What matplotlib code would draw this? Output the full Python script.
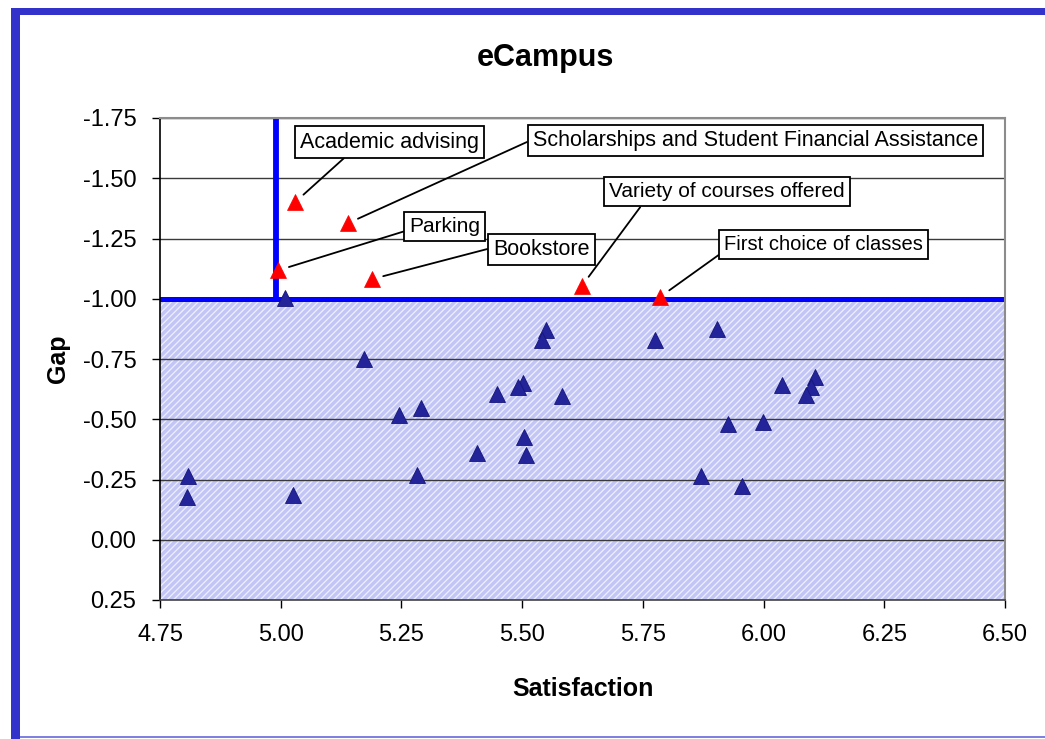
import matplotlib
matplotlib.use("Agg")
import matplotlib.pyplot as plt
from matplotlib.patches import Rectangle

plt.rcParams['font.family'] = ['Liberation Sans', 'DejaVu Sans']
plt.rcParams['axes.unicode_minus'] = False
plt.rcParams['hatch.linewidth'] = 0.9

# ---- data ----
title = "eCampus"
x_label = "Satisfaction"
y_label = "Gap"

red_labels = ["Academic advising",
              "Scholarships and Student Financial Assistance",
              "Parking",
              "Bookstore",
              "Variety of courses offered",
              "First choice of classes"]
red_x = [5.030, 5.139, 4.995, 5.190, 5.624, 5.786]
red_y = [-1.401, -1.313, -1.118, -1.082, -1.054, -1.008]

blue_x = [5.009, 5.549, 5.541, 5.172, 5.448, 5.502, 5.491, 5.582, 5.245,
          5.290, 5.504, 5.406, 5.508, 4.808, 5.282, 4.806, 5.025, 5.775,
          5.903, 6.038, 6.106, 6.098, 6.088, 5.926, 5.999, 5.870, 5.955]
blue_y = [-1.003, -0.870, -0.829, -0.750, -0.605, -0.650, -0.634, -0.597, -0.518,
          -0.547, -0.426, -0.360, -0.352, -0.265, -0.269, -0.177, -0.186, -0.829,
          -0.875, -0.642, -0.675, -0.634, -0.601, -0.480, -0.489, -0.265, -0.223]

x_ticks = [4.75, 5.00, 5.25, 5.50, 5.75, 6.00, 6.25, 6.50]
x_tick_labels = ["4.75", "5.00", "5.25", "5.50", "5.75", "6.00", "6.25", "6.50"]
y_ticks = [-1.75, -1.50, -1.25, -1.00, -0.75, -0.50, -0.25, 0.00, 0.25]
y_tick_labels = ["-1.75", "-1.50", "-1.25", "-1.00", "-0.75", "-0.50", "-0.25", "0.00", "0.25"]

gap_threshold = -1.00
sat_threshold = 4.99

# annotation text anchor positions (left edge of text, vertical centre), data coords
label_pos_x = [5.040, 5.522, 5.266, 5.440, 5.680, 5.918]
label_pos_y = [-1.650, -1.657, -1.298, -1.204, -1.443, -1.225]
label_sizes = [15.5, 15.5, 15.0, 15.5, 15.0, 14.5]
label_relpos = [(0.28, 0.0), (0.0, 0.55), (0.0, 0.35), (0.0, 0.6), (0.15, 0.0), (0.0, 0.15)]

# ---- figure ----
fig = plt.figure(figsize=(10.45, 7.39), dpi=100)
W, H = 1045, 739

# outer frame
fig.patches.append(Rectangle((11 / W, 0), 9 / W, 1 - 8 / H, transform=fig.transFigure,
                             facecolor='#3333cc', edgecolor='none', zorder=0))
fig.patches.append(Rectangle((11 / W, 1 - 15 / H), 1, 7 / H, transform=fig.transFigure,
                             facecolor='#3333cc', edgecolor='none', zorder=0))
fig.patches.append(Rectangle((20 / W, 1 - 738 / H), 1, 2 / H, transform=fig.transFigure,
                             facecolor='#8080e0', edgecolor='none', zorder=0))

ax = fig.add_axes([160 / W, 1 - 600 / H, (1005 - 160) / W, (600 - 118) / H])
ax.set_xlim(4.75, 6.50)
ax.set_ylim(0.25, -1.75)

# shaded region
ax.axhspan(gap_threshold, 0.25, facecolor='#c3c6f5', edgecolor='#eef0ff',
           hatch='/////', linewidth=0, zorder=0.2)

ax.set_axisbelow(True)
ax.yaxis.grid(True, color='#3a3a3a', linewidth=1.0)
ax.xaxis.grid(False)

# threshold lines
ax.axhline(gap_threshold, color='#0000ff', linewidth=3.6, zorder=2)
ax.plot([sat_threshold, sat_threshold], [-1.75, gap_threshold], color='#0000ff',
        linewidth=4.2, zorder=2, solid_capstyle='butt')

# points
ax.plot(blue_x, blue_y, linestyle='none', marker='^', markersize=11,
        markerfacecolor='#23239a', markeredgecolor='#16167a', markeredgewidth=0.6, zorder=3)
ax.plot(red_x, red_y, linestyle='none', marker='^', markersize=12,
        markerfacecolor='#ff0000', markeredgecolor='#ff0000', markeredgewidth=0.5, zorder=3.5)

# annotations
for lab, px, py, tx, ty, fs, rp in zip(red_labels, red_x, red_y, label_pos_x, label_pos_y,
                                       label_sizes, label_relpos):
    ax.annotate(lab, xy=(px, py), xytext=(tx, ty), textcoords='data',
                ha='left', va='center', fontsize=fs, color='black', zorder=5,
                bbox=dict(boxstyle='square,pad=0.24', facecolor='white', edgecolor='black', linewidth=1.3),
                arrowprops=dict(arrowstyle='-', color='black', linewidth=1.3,
                                relpos=rp, shrinkA=0, shrinkB=8))

# axes styling
ax.set_xticks(x_ticks)
ax.set_xticklabels(x_tick_labels)
ax.set_yticks(y_ticks)
ax.set_yticklabels(y_tick_labels)
ax.tick_params(axis='both', direction='out', length=6, width=1, colors='black',
               labelsize=17, pad=11)
for side in ['top', 'right']:
    ax.spines[side].set_color('#8c8c8c')
    ax.spines[side].set_linewidth(1.5)
ax.spines['left'].set_color('black')
ax.spines['bottom'].set_color('#444444')
ax.spines['left'].set_linewidth(1.2)
ax.spines['bottom'].set_linewidth(1.2)

ax.set_xlabel(x_label, fontsize=18, fontweight='bold')
ax.xaxis.set_label_coords(0.5, -0.16)
ax.set_ylabel(y_label, fontsize=18, fontweight='bold')
ax.yaxis.set_label_coords(-0.107, 0.5)

fig.text(545 / W, 1 - 58 / H, title, ha='center', va='center', fontsize=22, fontweight='bold')

fig.savefig('out.png', dpi=100)
